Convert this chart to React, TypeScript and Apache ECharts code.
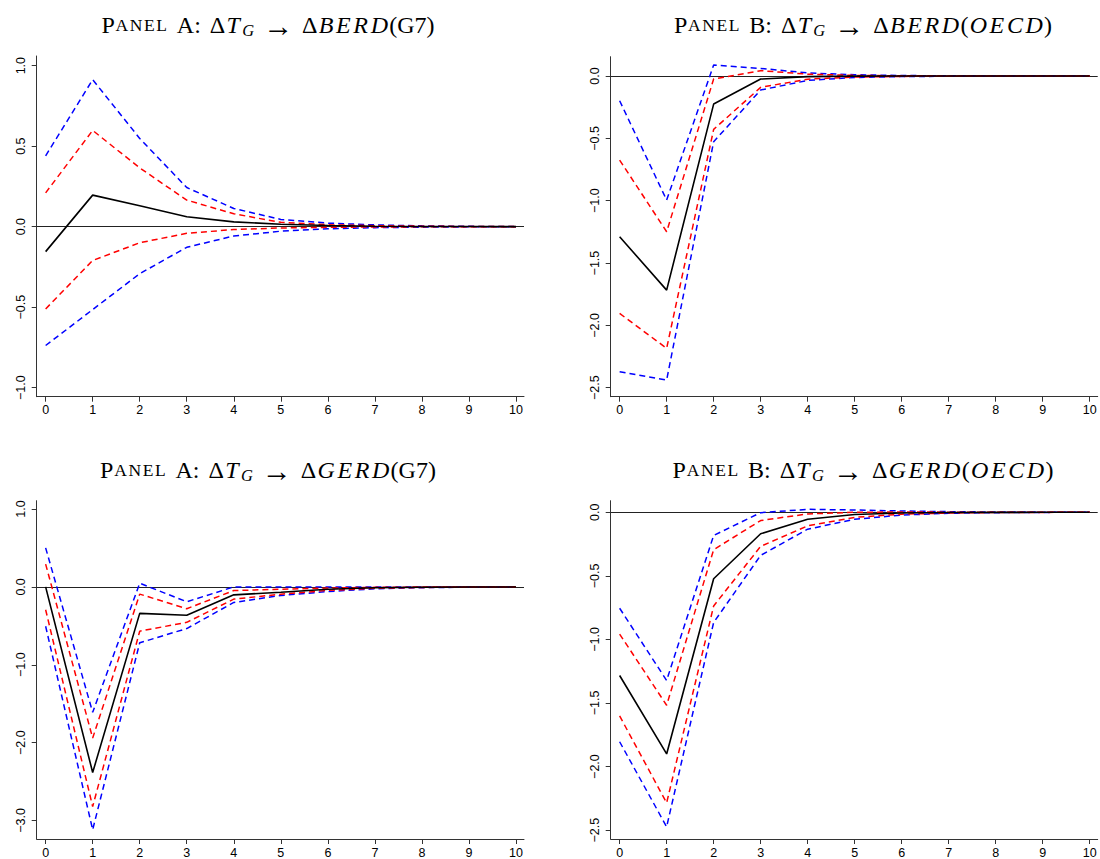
import React, { useEffect, useRef } from "react";
import * as echarts from "echarts";

// Horizons (x axis)
const horizons = [0, 1, 2, 3, 4, 5, 6, 7, 8, 9, 10];

// Panel A: ΔT_G → ΔBERD(G7)
const berdG7Irf = [-0.155, 0.196, 0.13, 0.062, 0.03, 0.015, 0.007, 0.003, 0.001, 0.001, 0];
const berdG7Up68 = [0.21, 0.598, 0.365, 0.165, 0.08, 0.027, 0.012, 0.006, 0.003, 0.001, 0.001];
const berdG7Lo68 = [-0.511, -0.21, -0.1, -0.041, -0.018, -0.008, -0.004, -0.002, -0.001, 0, 0];
const berdG7Up95 = [0.44, 0.913, 0.548, 0.243, 0.113, 0.045, 0.022, 0.011, 0.005, 0.002, 0.001];
const berdG7Lo95 = [-0.738, -0.515, -0.292, -0.128, -0.058, -0.028, -0.013, -0.006, -0.003, -0.001, 0];

// Panel B: ΔT_G → ΔBERD(OECD)
const berdOecdIrf = [-1.289, -1.717, -0.225, -0.024, -0.005, -0.001, 0, 0, 0, 0, 0];
const berdOecdUp68 = [-0.674, -1.249, -0.024, 0.043, 0.015, 0.005, 0.002, 0.001, 0, 0, 0];
const berdOecdLo68 = [-1.904, -2.184, -0.428, -0.091, -0.025, -0.008, -0.003, -0.001, 0, 0, 0];
const berdOecdUp95 = [-0.198, -0.995, 0.088, 0.061, 0.025, 0.01, 0.004, 0.002, 0.001, 0, 0];
const berdOecdLo95 = [-2.372, -2.439, -0.527, -0.112, -0.035, -0.012, -0.004, -0.002, -0.001, 0, 0];

// Panel A: ΔT_G → ΔGERD(G7)
const gerdG7Irf = [0, -2.384, -0.34, -0.365, -0.102, -0.068, -0.03, -0.012, -0.005, -0.002, -0.001];
const gerdG7Up68 = [0.293, -1.942, -0.093, -0.28, -0.047, -0.03, -0.015, -0.006, -0.002, -0.001, 0];
const gerdG7Lo68 = [-0.293, -2.822, -0.569, -0.455, -0.157, -0.094, -0.045, -0.018, -0.007, -0.003, -0.001];
const gerdG7Up95 = [0.501, -1.611, 0.047, -0.191, 0.0, -0.003, 0.0, 0, 0, 0, 0];
const gerdG7Lo95 = [-0.506, -3.119, -0.718, -0.535, -0.2, -0.11, -0.06, -0.025, -0.01, -0.004, -0.001];

// Panel B: ΔT_G → ΔGERD(OECD)
const gerdOecdIrf = [-1.284, -1.901, -0.523, -0.169, -0.055, -0.018, -0.006, -0.002, -0.001, 0, 0];
const gerdOecdUp68 = [-0.958, -1.518, -0.294, -0.065, -0.013, 0.0, 0.002, 0.001, 0, 0, 0];
const gerdOecdLo68 = [-1.602, -2.286, -0.737, -0.268, -0.107, -0.04, -0.015, -0.006, -0.002, -0.001, 0];
const gerdOecdUp95 = [-0.755, -1.323, -0.182, -0.003, 0.023, 0.018, 0.01, 0.005, 0.002, 0.001, 0];
const gerdOecdLo95 = [-1.805, -2.474, -0.867, -0.339, -0.133, -0.055, -0.022, -0.008, -0.003, -0.001, 0];

// Tick labels
const xTicks = [0, 1, 2, 3, 4, 5, 6, 7, 8, 9, 10];
const yTicksBerdG7 = [-1, -0.5, 0, 0.5, 1];
const yTicksBerdOecd = [-2.5, -2, -1.5, -1, -0.5, 0];
const yTicksGerdG7 = [-3, -2, -1, 0, 1];
const yTicksGerdOecd = [-2.5, -2, -1.5, -1, -0.5, 0];

// Title pieces
const italicWord = (w: string) => w.split("").map((c) => `{it|${c}}`).join("");
const makeTitle = (panel: string, variable: string, region: string, regionItalic: boolean) =>
  "{p|P}{sc|A}{sc|N}{sc|E}{sc|L}{g| }" +
  `{rm|${panel}:}{g| }` +
  "{rm|Δ}{it|T}{sub|G}{g| }{ar|→}{g| }" +
  "{rm|Δ}" + italicWord(variable) +
  "{rm|(}" + (regionItalic ? italicWord(region) : `{rm|${region}}`) + "{rm|)}";

const panels = [
  {
    irf: berdG7Irf, up68: berdG7Up68, lo68: berdG7Lo68, up95: berdG7Up95, lo95: berdG7Lo95,
    yTicks: yTicksBerdG7, yMin: -1.056, yMax: 1.06,
    grid: { left: 36.7, right: 576, top: 56, bottom: 462.3 },
    title: makeTitle("A", "BERD", "G7", false),
    tx: 268, ty: 25,
  },
  {
    irf: berdOecdIrf, up68: berdOecdUp68, lo68: berdOecdLo68, up95: berdOecdUp95, lo95: berdOecdLo95,
    yTicks: yTicksBerdOecd, yMin: -2.572, yMax: 0.155,
    grid: { left: 610.7, right: 2.3, top: 56.7, bottom: 462.3 },
    title: makeTitle("B", "BERD", "OECD", true),
    tx: 863, ty: 25,
  },
  {
    irf: gerdG7Irf, up68: gerdG7Up68, lo68: gerdG7Lo68, up95: gerdG7Up95, lo95: gerdG7Lo95,
    yTicks: yTicksGerdG7, yMin: -3.238, yMax: 1.107,
    grid: { left: 36.7, right: 576, top: 500.7, bottom: 18.3 },
    title: makeTitle("A", "GERD", "G7", false),
    tx: 268, ty: 470,
  },
  {
    irf: gerdOecdIrf, up68: gerdOecdUp68, lo68: gerdOecdLo68, up95: gerdOecdUp95, lo95: gerdOecdLo95,
    yTicks: yTicksGerdOecd, yMin: -2.57, yMax: 0.091,
    grid: { left: 610.7, right: 2.3, top: 500.7, bottom: 18.3 },
    title: makeTitle("B", "GERD", "OECD", true),
    tx: 863, ty: 470,
  },
];

const SERIF = "'Liberation Serif', 'DejaVu Serif', serif";
const SANS = "'Liberation Sans', Arial, sans-serif";

function fmt(v: number) {
  const s = Math.abs(v).toFixed(1);
  return v < 0 ? "\u2212" + s : s;
}

function toPairs(ys: number[]) {
  return horizons.map((h, i) => [h, ys[i]]);
}

export default function App() {
  const ref = useRef<HTMLDivElement>(null);

  useEffect(() => {
    if (!ref.current) return;
    const chart = echarts.init(ref.current, undefined, { renderer: "svg" });

    const grids: any[] = [];
    const xAxes: any[] = [];
    const yAxes: any[] = [];
    const series: any[] = [];
    const graphics: any[] = [];

    panels.forEach((p, i) => {
      grids.push({ ...p.grid, containLabel: false });
      xAxes.push({
        type: "value",
        gridIndex: i,
        min: -0.19,
        max: 10.17,
        axisLine: { show: true, onZero: false, lineStyle: { color: "#333", width: 1 } },
        axisTick: { show: true, length: 5, customValues: xTicks, lineStyle: { color: "#333" } },
        axisLabel: {
          show: true,
          customValues: xTicks,
          margin: 7,
          fontSize: 12.5,
          fontFamily: SANS,
          color: "#000",
          formatter: (v: number) => String(v),
        },
        splitLine: { show: false },
      });
      yAxes.push({
        type: "value",
        gridIndex: i,
        min: p.yMin,
        max: p.yMax,
        axisLine: { show: true, onZero: false, lineStyle: { color: "#333", width: 1 } },
        axisTick: { show: true, length: 5, customValues: p.yTicks, lineStyle: { color: "#333" } },
        axisLabel: {
          show: true,
          customValues: p.yTicks,
          rotate: 90,
          margin: 9,
          fontSize: 12.5,
          fontFamily: SANS,
          color: "#000",
          formatter: (v: number) => fmt(v),
        },
        splitLine: { show: false },
      });

      const base = { type: "line", xAxisIndex: i, yAxisIndex: i, symbol: "none", silent: true };
      series.push({
        ...base,
        name: "irf" + i,
        data: toPairs(p.irf),
        lineStyle: { color: "#000", width: 1.6, type: "solid" },
        z: 5,
        markLine: {
          silent: true,
          symbol: ["none", "none"],
          label: { show: false },
          lineStyle: { color: "#222", width: 1.1, type: "solid" },
          data: [{ yAxis: 0 }],
          z: 1,
        },
      });
      const dash = { type: [6, 4] };
      series.push({ ...base, name: "up95" + i, data: toPairs(p.up95), lineStyle: { color: "#0000ff", width: 1.5, ...dash }, z: 3 });
      series.push({ ...base, name: "lo95" + i, data: toPairs(p.lo95), lineStyle: { color: "#0000ff", width: 1.5, ...dash }, z: 3 });
      series.push({ ...base, name: "up68" + i, data: toPairs(p.up68), lineStyle: { color: "#ff0000", width: 1.5, ...dash }, z: 4 });
      series.push({ ...base, name: "lo68" + i, data: toPairs(p.lo68), lineStyle: { color: "#ff0000", width: 1.5, ...dash }, z: 4 });

      graphics.push({
        type: "text",
        x: p.tx,
        y: p.ty,
        style: {
          text: p.title,
          fontFamily: SERIF,
          fontSize: 24,
          fill: "#000",
          align: "center",
          verticalAlign: "middle",
          rich: {
            p: { fontFamily: SERIF, fontSize: 24, lineHeight: 28 },
            sc: { fontFamily: SERIF, fontSize: 17.5, lineHeight: 28, padding: [0, 0.8, 0, 0.8] },
            rm: { fontFamily: SERIF, fontSize: 24, lineHeight: 28 },
            g: { fontFamily: SERIF, fontSize: 24, lineHeight: 28, width: 9 },
            ar: { fontFamily: SERIF, fontSize: 30, lineHeight: 28 },
            it: { fontFamily: SERIF, fontSize: 24, fontStyle: "italic", lineHeight: 28, padding: [0, 1.3, 0, 1.3] },
            sub: { fontFamily: SERIF, fontSize: 16.5, fontStyle: "italic", lineHeight: 16, verticalAlign: "bottom", padding: [0, 0, 0, 1] },
          },
        },
      });
    });

    chart.setOption({
      animation: false,
      backgroundColor: "#fff",
      grid: grids,
      xAxis: xAxes,
      yAxis: yAxes,
      series,
      graphic: graphics,
    });

    return () => chart.dispose();
  }, []);

  return (
    <div
      ref={ref}
      style={{ position: "fixed", left: 0, top: 0, width: 1100, height: 859, background: "#fff" }}
    />
  );
}
